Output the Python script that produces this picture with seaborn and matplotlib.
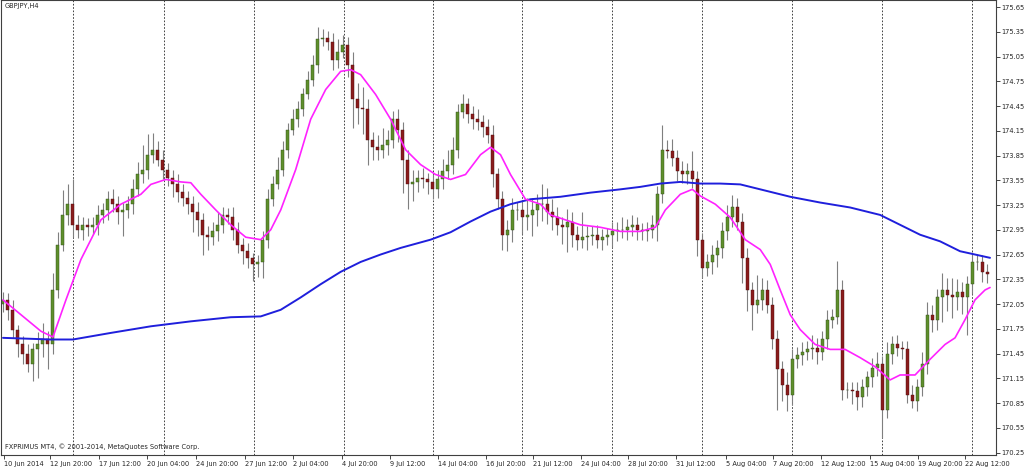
import numpy as np
import pandas as pd
import matplotlib
matplotlib.use("Agg")
import matplotlib.pyplot as plt
import seaborn as sns

# H4 closes, one bar per candle
closes = [
    172.10, 171.98, 171.74, 171.56, 171.44, 171.32, 171.50, 171.56, 171.62, 171.56,
    172.22, 172.77, 173.13, 173.26, 173.01, 172.95, 173.01, 172.98, 173.01, 173.13,
    173.19, 173.32, 173.26, 173.17, 173.19, 173.26, 173.44, 173.62, 173.68, 173.86,
    173.92, 173.80, 173.68, 173.58, 173.50, 173.41, 173.34, 173.26, 173.17, 173.07,
    172.89, 172.86, 172.93, 173.01, 173.13, 173.10, 172.95, 172.77, 172.69, 172.61,
    172.53, 172.56, 172.83, 173.32, 173.50, 173.68, 173.92, 174.16, 174.29, 174.41,
    174.59, 174.77, 174.95, 175.26, 175.28, 175.23, 175.01, 175.11, 175.19, 174.95,
    174.53, 174.43, 174.41, 174.04, 173.95, 173.92, 173.98, 174.04, 174.29, 174.16,
    173.80, 173.50, 173.53, 173.58, 173.56, 173.53, 173.44, 173.56, 173.66, 173.74,
    173.92, 174.38, 174.47, 174.35, 174.29, 174.26, 174.19, 174.10, 173.62, 173.32,
    172.89, 172.95, 173.19, 173.19, 173.10, 173.13, 173.19, 173.26, 173.26, 173.17,
    173.10, 173.01, 172.98, 173.05, 172.89, 172.83, 172.86, 172.88, 172.89, 172.83,
    172.86, 172.89, 172.93, 172.95, 172.95, 172.98, 173.01, 172.95, 172.93, 172.95,
    173.01, 173.38, 173.92, 173.90, 173.82, 173.66, 173.62, 173.66, 173.56, 172.83,
    172.49, 172.56, 172.65, 172.73, 172.93, 173.10, 173.22, 173.05, 172.61, 172.22,
    172.04, 172.10, 172.22, 172.04, 171.62, 171.26, 171.07, 170.95, 171.38, 171.43,
    171.47, 171.50, 171.52, 171.47, 171.62, 171.86, 171.89, 172.22, 171.01, 171.01,
    170.99, 170.92, 171.04, 171.16, 171.28, 171.32, 170.77, 171.44, 171.56, 171.52,
    171.50, 170.95, 170.87, 171.04, 171.32, 171.92, 171.86, 172.13, 172.22, 172.16,
    172.13, 172.20, 172.13, 172.29, 172.56, 172.56, 172.44, 172.41,
]
first_open = 172.05

upper_wick = [
    .10, .08, .12, .06, .10, .12, .08, .15, .20, .10,
    .20, .15, .30, .25, .30, .12, .10, .08, .10, .12,
    .08, .10, .12, .10, .08, .10, .12, .15, .30, .25,
    .20, .10, .12, .08, .10, .12, .10, .08, .10, .12,
    .08, .10, .12, .15, .10, .08, .12, .10, .08, .10,
    .06, .08, .10, .12, .10, .15, .10, .08, .12, .10,
    .08, .10, .12, .15, .10, .08, .10, .15, .12, .10,
    .15, .20, .25, .12, .10, .15, .20, .12, .10, .12,
    .10, .12, .15, .10, .12, .08, .10, .12, .15, .18,
    .15, .10, .12, .08, .10, .12, .08, .10, .12, .08,
    .10, .12, .15, .10, .12, .20, .15, .12, .25, .20,
    .15, .12, .10, .15, .12, .10, .30, .12, .10, .12,
    .10, .08, .12, .10, .15, .10, .12, .10, .08, .10,
    .12, .10, .30, .12, .15, .10, .12, .10, .25, .10,
    .08, .10, .12, .10, .12, .15, .15, .12, .10, .12,
    .10, .30, .15, .12, .10, .12, .10, .15, .12, .10,
    .12, .10, .15, .12, .10, .12, .10, .35, .12, .10,
    .10, .12, .10, .08, .12, .15, .10, .15, .10, .12,
    .08, .10, .12, .10, .15, .15, .12, .10, .20, .15,
    .20, .15, .12, .10, .12, .10, .08, .10,
]
lower_wick = [
    .10, .12, .10, .15, .12, .10, .20, .35, .15, .30,
    .12, .10, .08, .12, .15, .10, .12, .10, .08, .12,
    .10, .12, .10, .15, .30, .10, .12, .08, .10, .12,
    .10, .08, .12, .10, .15, .12, .10, .12, .25, .20,
    .25, .15, .10, .12, .10, .08, .12, .10, .15, .12,
    .20, .15, .20, .10, .08, .06, .08, .10, .06, .10,
    .08, .06, .08, .10, .08, .10, .12, .10, .08, .15,
    .35, .20, .30, .30, .15, .12, .10, .12, .10, .15,
    .40, .30, .20, .12, .10, .15, .12, .10, .12, .10,
    .12, .10, .08, .10, .12, .10, .12, .10, .15, .12,
    .18, .20, .15, .12, .20, .15, .25, .20, .20, .15,
    .15, .12, .20, .30, .15, .12, .10, .15, .12, .10,
    .12, .10, .15, .12, .10, .12, .10, .12, .10, .12,
    .10, .20, .10, .08, .10, .12, .10, .12, .10, .20,
    .12, .10, .15, .15, .12, .10, .12, .10, .30, .25,
    .30, .10, .12, .10, .12, .50, .20, .20, .12, .10,
    .12, .10, .12, .15, .10, .12, .10, .08, .12, .10,
    .15, .15, .12, .10, .12, .10, .35, .10, .12, .10,
    .12, .10, .08, .12, .10, .12, .15, .12, .30, .20,
    .25, .15, .20, .45, .12, .10, .12, .10,
]

# moving averages (bar position, price)
ma_fast_pos = [0, 3.6, 7.6, 10, 12.6, 15.6, 19.6, 23.6, 27.6, 29.6, 32.6, 35.6, 37.6,
               39.6, 42.6, 45.6, 48.6, 51.6, 53.6, 55.6, 58.6, 61.6, 64.6, 67.6, 69.6,
               71.6, 74.6, 77.6, 80.6, 83.6, 86.6, 89.6, 92.6, 95.6, 97.6, 99.6, 101.6,
               104.6, 107.6, 109.6, 112.6, 115.6, 119.6, 123.6, 127.6, 130.6, 132.6,
               135.6, 138, 139.6, 142.6, 145.6, 148.6, 151.6, 153.6, 155.6, 157.6,
               159.6, 162.6, 165.6, 168.6, 171.6, 174.6, 177.6, 179.6, 182.6, 185.6,
               188.6, 190.6, 192.6, 194.6, 196.6, 197.6]
ma_fast = [172.10, 171.92, 171.72, 171.65, 172.10, 172.59, 173.07, 173.26, 173.38, 173.50,
           173.56, 173.53, 173.52, 173.38, 173.19, 173.01, 172.86, 172.83, 172.95, 173.19,
           173.68, 174.29, 174.65, 174.87, 174.89, 174.83, 174.59, 174.29, 173.92, 173.74,
           173.62, 173.56, 173.62, 173.86, 173.95, 173.86, 173.62, 173.32, 173.26, 173.13,
           173.07, 173.01, 172.98, 172.93, 172.93, 172.98, 173.19, 173.38, 173.44, 173.36,
           173.26, 173.10, 172.83, 172.71, 172.53, 172.22, 171.92, 171.74, 171.56, 171.50,
           171.50, 171.40, 171.29, 171.13, 171.19, 171.19, 171.38, 171.56, 171.64, 171.86,
           172.10, 172.22, 172.25]
ma_slow_pos = [0, 9.6, 14, 21.6, 29.6, 37.6, 45.6, 51.6, 55.6, 59.6, 63.6, 67.6, 71.6,
               75.6, 79.6, 85.6, 89.6, 93.6, 97.6, 101.6, 105.6, 111.6, 117.6, 123.6,
               127.6, 131.6, 135.6, 139.6, 143.6, 147.6, 151.6, 157.6, 163.6, 169.6,
               175.6, 179.6, 183.6, 187.6, 191.6, 194.6, 197.6]
ma_slow = [171.64, 171.62, 171.62, 171.70, 171.78, 171.84, 171.89, 171.90, 171.98, 172.13,
           172.29, 172.44, 172.56, 172.65, 172.73, 172.83, 172.92, 173.05, 173.17, 173.26,
           173.32, 173.35, 173.40, 173.44, 173.47, 173.51, 173.53, 173.51, 173.51, 173.50,
           173.44, 173.35, 173.28, 173.22, 173.13, 173.01, 172.89, 172.81, 172.69, 172.65,
           172.61]

date_labels = ["10 Jun 2014", "12 Jun 20:00", "17 Jun 12:00", "20 Jun 04:00", "24 Jun 20:00",
               "27 Jun 12:00", "2 Jul 04:00", "4 Jul 20:00", "9 Jul 12:00", "14 Jul 04:00",
               "16 Jul 20:00", "21 Jul 12:00", "24 Jul 04:00", "28 Jul 20:00", "31 Jul 12:00",
               "5 Aug 04:00", "7 Aug 20:00", "12 Aug 12:00", "15 Aug 04:00", "19 Aug 20:00",
               "22 Aug 12:00"]
date_pos = [0.2, 9.4, 19.2, 28.8, 38.6, 48.4, 58, 67.8, 77.4, 87, 96.6, 106.2, 115.8,
            125.2, 134.8, 144.8, 154.2, 163.8, 173.6, 183.2, 192.6]
separator_pos = [14, 32.2, 50.2, 68.2, 86, 104, 122, 140, 158, 176, 194]
price_ticks = np.round(np.arange(170.25, 175.66, 0.30), 2)

df = pd.DataFrame({"close": closes})
df["open"] = [first_open] + closes[:-1]
df["high"] = df[["open", "close"]].max(axis=1) + np.array(upper_wick)
df["low"] = df[["open", "close"]].min(axis=1) - np.array(lower_wick)
df["x"] = np.arange(len(df))

sns.set_style("white")
plt.rcParams["font.family"] = ["DejaVu Sans"]

fig = plt.figure(figsize=(10.24, 4.71), dpi=100)
ax = fig.add_axes([1 / 1024, 16 / 471, 995 / 1024, 455 / 471])

for p in separator_pos:
    ax.axvline(p, color="#222222", lw=0.6, ls=(0, (2, 2)), zorder=0)

ax.vlines(df["x"], df["low"], df["high"], color="#7f7f7f", lw=0.8, zorder=1)
up = df[df["close"] >= df["open"]]
dn = df[df["close"] < df["open"]]
ax.bar(up["x"], up["close"] - up["open"], bottom=up["open"], width=0.6,
       color="#5e8f2c", edgecolor="#2f4a16", lw=0.3, zorder=2)
ax.bar(dn["x"], dn["open"] - dn["close"], bottom=dn["close"], width=0.6,
       color="#8a1c1c", edgecolor="#4a0c0c", lw=0.3, zorder=2)

sns.lineplot(x=ma_slow_pos, y=ma_slow, ax=ax, color="#1f1fdc", lw=1.4, zorder=3)
sns.lineplot(x=ma_fast_pos, y=ma_fast, ax=ax, color="#ff22ff", lw=1.2, zorder=3)

ax.set_xlim(-0.4, 198.8)
ax.set_ylim(170.22, 175.735)
ax.yaxis.tick_right()
ax.set_yticks(price_ticks)
ax.set_yticklabels([f"{t:.2f}" for t in price_ticks], fontsize=4.8)
ax.set_xticks(date_pos)
ax.set_xticklabels(date_labels, fontsize=4.8, ha="left")
ax.tick_params(axis="both", length=3, width=0.6, pad=1, direction="out",
               bottom=True, right=True)
for s in ax.spines.values():
    s.set_linewidth(0.8)
    s.set_color("#404040")

ax.text(0.004, 0.993, "GBPJPY,H4", transform=ax.transAxes, fontsize=4.8, va="top")
ax.text(0.004, 0.012, "FXPRIMUS MT4, © 2001-2014, MetaQuotes Software Corp.",
        transform=ax.transAxes, fontsize=4.8, va="bottom")

fig.savefig("out.png", dpi=100)
